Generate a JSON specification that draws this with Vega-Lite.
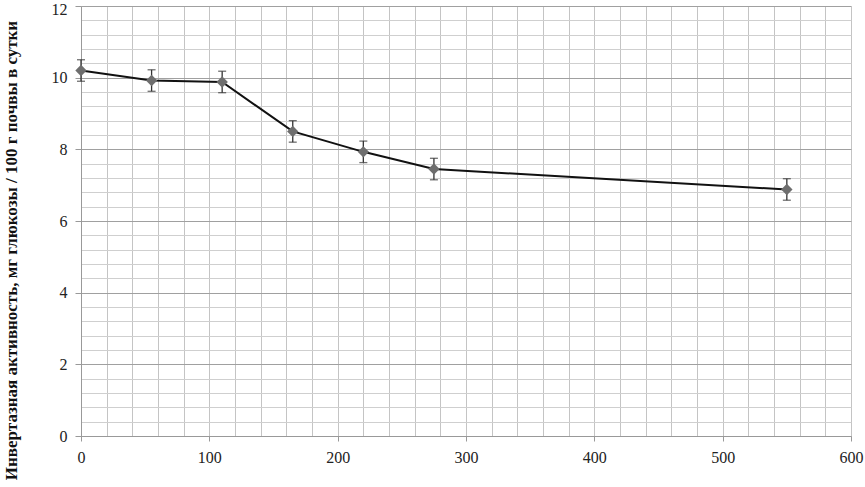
{
  "$schema": "https://vega.github.io/schema/vega-lite/v6.json",
  "autosize": "none",
  "padding": {"left": 81, "top": 6, "right": 14, "bottom": 45},
  "width": 770,
  "height": 430,
  "background": "white",
  "config": {"view": {"stroke": null}},
  "data": {"values": [
    {"day": 0, "activity": 10.2, "lo": 9.9, "hi": 10.5},
    {"day": 55, "activity": 9.92, "lo": 9.62, "hi": 10.22},
    {"day": 110, "activity": 9.88, "lo": 9.58, "hi": 10.18},
    {"day": 165, "activity": 8.5, "lo": 8.2, "hi": 8.8},
    {"day": 220, "activity": 7.93, "lo": 7.63, "hi": 8.23},
    {"day": 275, "activity": 7.45, "lo": 7.15, "hi": 7.75},
    {"day": 550, "activity": 6.88, "lo": 6.58, "hi": 7.18}
  ]},
  "encoding": {
    "x": {
      "field": "day", "type": "quantitative",
      "scale": {"domain": [0, 600], "nice": false, "zero": false},
      "axis": {
        "title": null,
        "tickCount": 100,
        "values": [0,20,40,60,80,100,120,140,160,180,200,220,240,260,280,300,320,340,360,380,400,420,440,460,480,500,520,540,560,580,600],
        "labelExpr": "datum.value % 100 === 0 ? datum.label : ''",
        "labelFont": "Liberation Serif", "labelFontSize": 16, "labelColor": "#222",
        "labelPadding": 8,
        "labelFlush": false,
        "grid": true, "gridColor": "#c4c4c4", "gridWidth": 1,
        "tickSize": {"condition": {"test": "datum.value % 100 === 0", "value": 5}, "value": 0},
        "tickColor": "#999",
        "domainColor": "#999"
      }
    },
    "y": {"field": "activity", "type": "quantitative"}
  },
  "layer": [
    {
      "mark": {"type": "line", "color": "#111", "strokeWidth": 2},
      "encoding": {
        "y": {
          "field": "activity", "type": "quantitative",
          "scale": {"domain": [0, 12], "nice": false},
          "axis": {
            "title": "Инвертазная  активность, мг глюкозы / 100 г почвы  в сутки",
            "titleFont": "Liberation Serif", "titleFontSize": 17, "titleFontWeight": "bold", "titleColor": "#111",
            "titleAnchor": "middle",
            "titleX": -61, "titleY": 244,
            "tickCount": 100,
            "values": [0,0.4,0.8,1.2,1.6,2,2.4,2.8,3.2,3.6,4,4.4,4.8,5.2,5.6,6,6.4,6.8,7.2,7.6,8,8.4,8.8,9.2,9.6,10,10.4,10.8,11.2,11.6,12],
            "labelExpr": "abs(datum.value - round(datum.value/2)*2) < 0.01 ? format(datum.value, 'd') : ''",
            "labelFont": "Liberation Serif", "labelFontSize": 16, "labelColor": "#222",
            "labelPadding": 8,
            "labelFlush": false,
            "labelOverlap": false,
            "labelOffset": {"condition": {"test": "datum.value === 12", "value": 3}, "value": 0},
            "grid": true,
            "gridColor": {"condition": {"test": "abs(datum.value - round(datum.value/2)*2) < 0.01", "value": "#a0a0a0"}, "value": "#cfcfcf"},
            "tickSize": {"condition": {"test": "abs(datum.value - round(datum.value/2)*2) < 0.01", "value": 6}, "value": 0},
            "tickColor": "#999",
            "domainColor": "#999"
          }
        }
      }
    },
    {
      "mark": {"type": "rule", "color": "#333", "strokeWidth": 1.3},
      "encoding": {"y": {"field": "lo", "type": "quantitative"}, "y2": {"field": "hi"}}
    },
    {
      "mark": {"type": "tick", "orient": "horizontal", "color": "#333", "size": 8, "thickness": 1.3},
      "encoding": {"y": {"field": "lo", "type": "quantitative"}}
    },
    {
      "mark": {"type": "tick", "orient": "horizontal", "color": "#333", "size": 8, "thickness": 1.3},
      "encoding": {"y": {"field": "hi", "type": "quantitative"}}
    },
    {
      "mark": {"type": "point", "shape": "diamond", "filled": true, "color": "#6e6e6e", "size": 130, "opacity": 1},
      "encoding": {}
    }
  ]
}
